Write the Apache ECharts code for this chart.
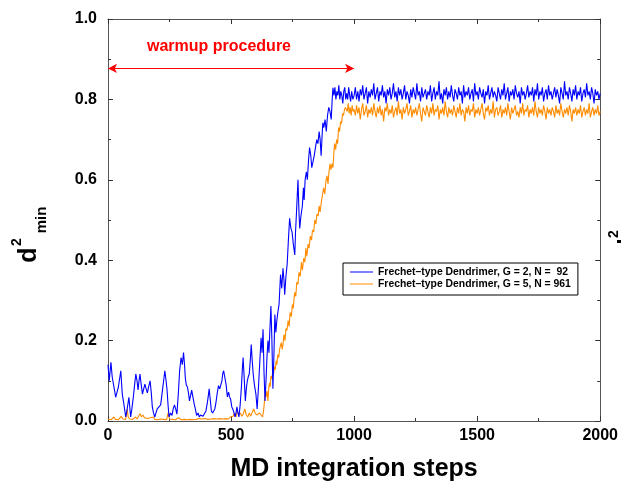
<!DOCTYPE html>
<html>
<head>
<meta charset="utf-8">
<script src="https://cdn.jsdelivr.net/npm/echarts@6/dist/echarts.min.js"></script>
<style>html,body{margin:0;padding:0;background:#fff;}#c{width:621px;height:487px;}</style>
</head>
<body>
<div id="c"></div>
<script>
// ---- data ----
const seriesNames = ['Frechet\u2013type Dendrimer, G = 2, N =  92', 'Frechet\u2013type Dendrimer, G = 5, N = 961'];
const xTicks = [0, 500, 1000, 1500, 2000];
const yTicks = [0.0, 0.2, 0.4, 0.6, 0.8, 1.0];
const warmupLabel = 'warmup procedure';
const warmupRange = [0, 1000];
const warmupLevel = 0.877;

// G = 2 : warm-up part [step, d2min]
const blueWarmup = [[0,0.14],[5,0.10],[12,0.146],[17,0.11],[22,0.092],[27,0.075],[31,0.059],[36,0.07],[42,0.084],[47,0.08],[52,0.125],[58,0.067],[65,0.04],[72,0.01],[78,0.03],[85,0.059],[92,0.01],[97,0.03],[103,0.06],[108,0.09],[113,0.117],[118,0.1],[122,0.077],[126,0.1],[130,0.117],[135,0.09],[140,0.067],[145,0.08],[150,0.092],[155,0.08],[160,0.07],[165,0.085],[171,0.1],[176,0.07],[180,0.035],[185,0.02],[190,0.01],[195,0.02],[200,0.03],[207,0.035],[214,0.04],[220,0.07],[226,0.1],[231,0.125],[236,0.1],[240,0.077],[244,0.04],[248,0.01],[254,0.02],[260,0.014],[265,0.03],[270,0.04],[275,0.03],[280,0.017],[286,0.07],[291,0.125],[297,0.158],[302,0.14],[307,0.17],[311,0.14],[314,0.108],[318,0.09],[323,0.084],[327,0.07],[331,0.05],[336,0.065],[340,0.077],[345,0.06],[350,0.043],[355,0.03],[360,0.014],[366,0.02],[371,0.01],[376,0.015],[380,0.017],[386,0.012],[393,0.01],[398,0.025],[403,0.043],[407,0.06],[411,0.08],[416,0.05],[420,0.025],[425,0.02],[429,0.017],[434,0.03],[438,0.043],[444,0.07],[449,0.088],[454,0.08],[459,0.077],[463,0.1],[466,0.117],[470,0.125],[475,0.121],[480,0.09],[485,0.06],[490,0.072],[494,0.06],[498,0.055],[503,0.035],[507,0.03],[512,0.02],[516,0.01],[520,0.02],[524,0.035],[528,0.02],[532,0.01],[537,0.04],[542,0.084],[546,0.13],[549,0.158],[554,0.1],[558,0.05],[562,0.08],[566,0.1],[570,0.11],[574,0.117],[578,0.15],[582,0.19],[586,0.15],[590,0.117],[595,0.09],[601,0.067],[606,0.03],[612,0.09],[617,0.15],[622,0.207],[626,0.17],[630,0.228],[634,0.12],[638,0.05],[642,0.1],[646,0.16],[650,0.2],[654,0.17],[658,0.23],[662,0.286],[666,0.2],[670,0.08],[674,0.16],[678,0.265],[682,0.22],[686,0.25],[690,0.27],[695,0.29],[701,0.364],[706,0.33],[711,0.38],[715,0.35],[718,0.314],[723,0.36],[728,0.39],[733,0.45],[738,0.504],[743,0.48],[748,0.47],[753,0.44],[759,0.413],[762,0.47],[766,0.52],[769,0.56],[772,0.6],[776,0.52],[779,0.479],[784,0.51],[790,0.536],[794,0.58],[797,0.55],[801,0.6],[806,0.62],[810,0.6],[815,0.65],[819,0.68],[824,0.66],[828,0.63],[833,0.627],[838,0.66],[843,0.68],[848,0.7],[853,0.69],[858,0.72],[862,0.7],[866,0.66],[870,0.71],[873,0.742],[877,0.73],[882,0.75],[887,0.72],[892,0.76],[897,0.78],[902,0.77],[907,0.75],[911,0.8],[914,0.829],[918,0.81],[922,0.83],[926,0.8],[930,0.82],[934,0.81],[938,0.835],[942,0.8],[946,0.82],[950,0.81],[954,0.79],[958,0.82],[962,0.83],[966,0.8],[970,0.815],[974,0.8],[978,0.83],[982,0.81],[986,0.795],[990,0.82],[995,0.8]];
// G = 2 : plateau, steps 1000..2000 every 5
const bluePlateau = [
0.81,0.83,0.80,0.82,0.795,0.825,0.81,0.835,0.80,0.815,0.83,0.79,0.82,0.805,0.825,0.81,0.84,0.80,0.815,0.83,
0.795,0.82,0.81,0.835,0.805,0.82,0.79,0.825,0.81,0.83,0.80,0.815,0.84,0.805,0.82,0.795,0.83,0.81,0.825,0.80,
0.815,0.835,0.80,0.82,0.81,0.79,0.825,0.805,0.83,0.815,0.80,0.84,0.81,0.82,0.795,0.83,0.805,0.815,0.825,0.80,
0.82,0.81,0.835,0.795,0.815,0.83,0.80,0.82,0.81,0.845,0.80,0.815,0.79,0.825,0.81,0.83,0.80,0.82,0.805,0.835,
0.81,0.795,0.825,0.815,0.80,0.83,0.81,0.82,0.79,0.835,0.805,0.82,0.81,0.83,0.80,0.815,0.825,0.795,0.84,0.81,
0.82,0.80,0.83,0.815,0.805,0.825,0.79,0.82,0.81,0.835,0.80,0.815,0.83,0.805,0.82,0.81,0.795,0.83,0.815,0.80,
0.825,0.81,0.84,0.80,0.815,0.83,0.795,0.82,0.81,0.825,0.80,0.835,0.815,0.805,0.82,0.79,0.83,0.81,0.82,0.80,
0.815,0.835,0.805,0.82,0.81,0.83,0.795,0.825,0.81,0.84,0.80,0.82,0.81,0.83,0.795,0.815,0.825,0.80,0.835,0.81,
0.82,0.80,0.815,0.83,0.805,0.825,0.81,0.79,0.83,0.815,0.80,0.845,0.81,0.82,0.80,0.83,0.815,0.795,0.825,0.81,
0.835,0.80,0.82,0.81,0.83,0.795,0.815,0.825,0.805,0.84,0.81,0.82,0.80,0.83,0.815,0.79,0.825,0.81,0.82,0.80,
0.815];

// G = 5 : warm-up part [step, d2min]
const orangeWarmup = [[0,0.005],[6,0.008],[12,0.003],[18,0.006],[24,0.01],[30,0.004],[36,0.007],[42,0.003],[48,0.006],[54,0.012],[60,0.005],[66,0.008],[72,0.004],[78,0.03],[82,0.01],[88,0.005],[94,0.007],[100,0.004],[106,0.006],[112,0.01],[118,0.005],[124,0.012],[130,0.018],[136,0.01],[142,0.015],[148,0.008],[154,0.012],[160,0.006],[166,0.004],[172,0.008],[178,0.005],[184,0.01],[190,0.004],[196,0.006],[202,0.003],[208,0.007],[214,0.005],[220,0.009],[226,0.004],[232,0.006],[238,0.003],[244,0.02],[250,0.005],[256,0.008],[262,0.004],[268,0.006],[274,0.003],[280,0.005],[286,0.008],[292,0.004],[298,0.003],[304,0.006],[310,0.004],[316,0.007],[322,0.003],[328,0.005],[334,0.004],[340,0.006],[346,0.003],[352,0.005],[358,0.004],[364,0.003],[370,0.006],[376,0.004],[382,0.005],[388,0.003],[394,0.006],[400,0.008],[406,0.004],[412,0.006],[418,0.005],[424,0.003],[430,0.006],[436,0.004],[442,0.005],[448,0.003],[454,0.006],[460,0.004],[466,0.005],[472,0.003],[478,0.006],[484,0.008],[490,0.005],[496,0.01],[502,0.006],[508,0.012],[514,0.02],[520,0.01],[526,0.025],[532,0.015],[538,0.02],[544,0.012],[550,0.018],[556,0.03],[562,0.015],[568,0.01],[574,0.02],[580,0.012],[586,0.022],[592,0.03],[598,0.02],[604,0.015],[610,0.012],[616,0.02],[622,0.015],[628,0.01],[632,0.025],[635,0.043],[639,0.072],[642,0.06],[646,0.075],[650,0.05],[653,0.08],[656,0.095],[659,0.085],[662,0.112],[666,0.105],[670,0.128],[673,0.118],[676,0.135],[680,0.128],[683,0.15],[686,0.14],[690,0.165],[694,0.158],[697,0.178],[700,0.18],[704,0.195],[708,0.178],[711,0.19],[715,0.215],[719,0.2],[723,0.23],[727,0.225],[732,0.25],[736,0.235],[740,0.27],[745,0.26],[749,0.29],[753,0.28],[756,0.305],[759,0.32],[763,0.31],[767,0.345],[772,0.34],[776,0.37],[781,0.36],[786,0.395],[790,0.375],[795,0.405],[800,0.395],[804,0.43],[808,0.41],[813,0.44],[817,0.43],[822,0.46],[827,0.45],[831,0.475],[836,0.47],[840,0.5],[845,0.49],[849,0.515],[854,0.51],[858,0.535],[862,0.52],[867,0.545],[871,0.56],[876,0.58],[881,0.565],[885,0.595],[890,0.61],[894,0.59],[898,0.62],[902,0.64],[906,0.625],[910,0.64],[914,0.63],[918,0.67],[921,0.69],[925,0.675],[929,0.7],[933,0.69],[937,0.73],[941,0.72],[945,0.745],[949,0.74],[953,0.765],[957,0.76],[961,0.775],[965,0.78],[968,0.783],[972,0.77],[976,0.79],[980,0.765],[984,0.78],[988,0.76],[992,0.785],[996,0.77]];
// G = 5 : plateau, steps 1000..2000 every 5
const orangePlateau = [
0.775,0.76,0.785,0.765,0.78,0.75,0.775,0.79,0.76,0.77,0.785,0.755,0.775,0.765,0.78,0.76,0.79,0.77,0.755,0.78,
0.765,0.785,0.76,0.775,0.745,0.78,0.77,0.79,0.76,0.775,0.765,0.785,0.755,0.77,0.78,0.76,0.795,0.765,0.775,0.75,
0.78,0.765,0.775,0.79,0.76,0.77,0.785,0.755,0.775,0.765,0.78,0.76,0.775,0.79,0.765,0.745,0.78,0.77,0.76,0.785,
0.77,0.755,0.78,0.765,0.79,0.76,0.775,0.77,0.785,0.75,0.775,0.765,0.78,0.76,0.795,0.77,0.755,0.78,0.765,0.775,
0.76,0.785,0.77,0.755,0.78,0.765,0.79,0.76,0.775,0.77,0.745,0.78,0.765,0.785,0.76,0.775,0.77,0.79,0.755,0.775,
0.765,0.78,0.76,0.775,0.79,0.765,0.75,0.78,0.77,0.785,0.76,0.775,0.765,0.795,0.755,0.775,0.78,0.76,0.77,0.785,
0.755,0.775,0.765,0.78,0.76,0.79,0.77,0.75,0.78,0.765,0.775,0.785,0.76,0.77,0.755,0.78,0.765,0.79,0.76,0.775,
0.77,0.785,0.755,0.775,0.765,0.78,0.76,0.795,0.77,0.755,0.78,0.765,0.775,0.76,0.785,0.77,0.75,0.78,0.765,0.775,
0.76,0.78,0.77,0.755,0.785,0.765,0.775,0.76,0.79,0.77,0.755,0.775,0.765,0.78,0.76,0.785,0.77,0.745,0.775,0.765,
0.78,0.76,0.775,0.765,0.785,0.755,0.77,0.78,0.76,0.775,0.765,0.79,0.755,0.77,0.78,0.76,0.775,0.765,0.785,0.76,
0.77];
const plateauStart = 1000, plateauStep = 5;

// ---- build ----
const toPairs = (arr) => arr.map((v, i) => [plateauStart + i * plateauStep, v]);
const blueData = blueWarmup.concat(toPairs(bluePlateau));
const orangeData = orangeWarmup.concat(toPairs(orangePlateau));

const FONT = 'Liberation Sans, Arial, Helvetica, sans-serif';
const axisCommon = {
  type: 'value',
  axisLine: { show: true, onZero: false, lineStyle: { color: '#555', width: 1 } },
  axisTick: { show: true, inside: true, length: 5, lineStyle: { color: '#333' } },
  minorTick: { show: true, splitNumber: 2, length: 3, lineStyle: { color: '#333' } },
  splitLine: { show: false },
  minorSplitLine: { show: false }
};

const chart = echarts.init(document.getElementById('c'), null, { renderer: 'canvas' });
chart.setOption({
  animation: false,
  backgroundColor: '#fff',
  grid: { left: 108, right: 20, top: 19, bottom: 63, containLabel: false },
  xAxis: [
    Object.assign({}, axisCommon, {
      min: xTicks[0], max: xTicks[xTicks.length - 1], interval: 500, position: 'bottom',
      axisLabel: { show: true, margin: 7, color: '#000', fontSize: 16, fontWeight: 'bold', fontFamily: FONT,
        formatter: (v) => String(v) },
      name: 'MD integration steps', nameLocation: 'middle', nameGap: 36,
      nameTextStyle: { color: '#000', fontSize: 25, fontWeight: 'bold', fontFamily: FONT }
    }),
    Object.assign({}, axisCommon, {
      min: xTicks[0], max: xTicks[xTicks.length - 1], interval: 500, position: 'top',
      axisLabel: { show: false }
    })
  ],
  yAxis: [
    Object.assign({}, axisCommon, {
      min: yTicks[0], max: yTicks[yTicks.length - 1], interval: 0.2, position: 'left',
      axisLabel: { show: true, margin: 11, color: '#000', fontSize: 16, fontWeight: 'bold', fontFamily: FONT,
        formatter: (v) => v.toFixed(1) }
    }),
    Object.assign({}, axisCommon, {
      min: yTicks[0], max: yTicks[yTicks.length - 1], interval: 0.2, position: 'right',
      axisLabel: { show: false }
    })
  ],
  legend: {
    orient: 'vertical', left: 343, top: 263,
    padding: [3, 7, 5, 7], itemGap: 0, itemWidth: 23, itemHeight: 2,
    borderColor: '#000', borderWidth: 1, backgroundColor: '#fff',
    icon: 'rect',
    textStyle: { color: '#000', fontSize: 10.4, fontWeight: 'bold', fontFamily: FONT, lineHeight: 12 },
    data: [
      { name: seriesNames[0], itemStyle: { color: 'rgba(0,0,255,0.5)' } },
      { name: seriesNames[1], itemStyle: { color: 'rgba(255,140,0,0.5)' } }
    ]
  },
  series: [
    {
      name: seriesNames[0], type: 'line', data: blueData, showSymbol: false, symbol: 'none',
      lineStyle: { color: '#0000ff', width: 1.1 }, itemStyle: { color: '#0000ff' }, z: 3
    },
    {
      name: seriesNames[1], type: 'line', data: orangeData, showSymbol: false, symbol: 'none',
      lineStyle: { color: '#ff8c00', width: 1.1 }, itemStyle: { color: '#ff8c00' }, z: 2,
      markLine: {
        silent: true, symbol: ['arrow', 'arrow'], symbolSize: [7, 9],
        lineStyle: { color: '#ff0000', width: 1, type: 'solid' },
        label: { show: false },
        data: [[{ coord: [warmupRange[0], warmupLevel] }, { coord: [warmupRange[1], warmupLevel] }]]
      }
    }
  ],
  graphic: [
    { type: 'text', x: 219, y: 46.5, style: { text: warmupLabel, fill: '#ff0000', font: 'bold 16px ' + FONT, textAlign: 'center', textVerticalAlign: 'middle' } },
    { type: 'text', x: 29, y: 255, rotation: Math.PI / 2, style: { text: 'd', fill: '#000', font: 'bold 25px ' + FONT, textAlign: 'center', textVerticalAlign: 'middle' } },
    { type: 'text', x: 17, y: 242, rotation: Math.PI / 2, style: { text: '2', fill: '#000', font: 'bold 14px ' + FONT, textAlign: 'center', textVerticalAlign: 'middle' } },
    { type: 'text', x: 42, y: 220, rotation: Math.PI / 2, style: { text: 'min', fill: '#000', font: 'bold 15px ' + FONT, textAlign: 'center', textVerticalAlign: 'middle' } },
    { type: 'text', x: 614, y: 234, rotation: Math.PI / 2, style: { text: '2', fill: '#000', font: 'bold 14px ' + FONT, textAlign: 'center', textVerticalAlign: 'middle' } },
    { type: 'rect', shape: { x: 617, y: 240, width: 4, height: 3 }, style: { fill: '#000' } }
  ]
});
</script>
</body>
</html>
